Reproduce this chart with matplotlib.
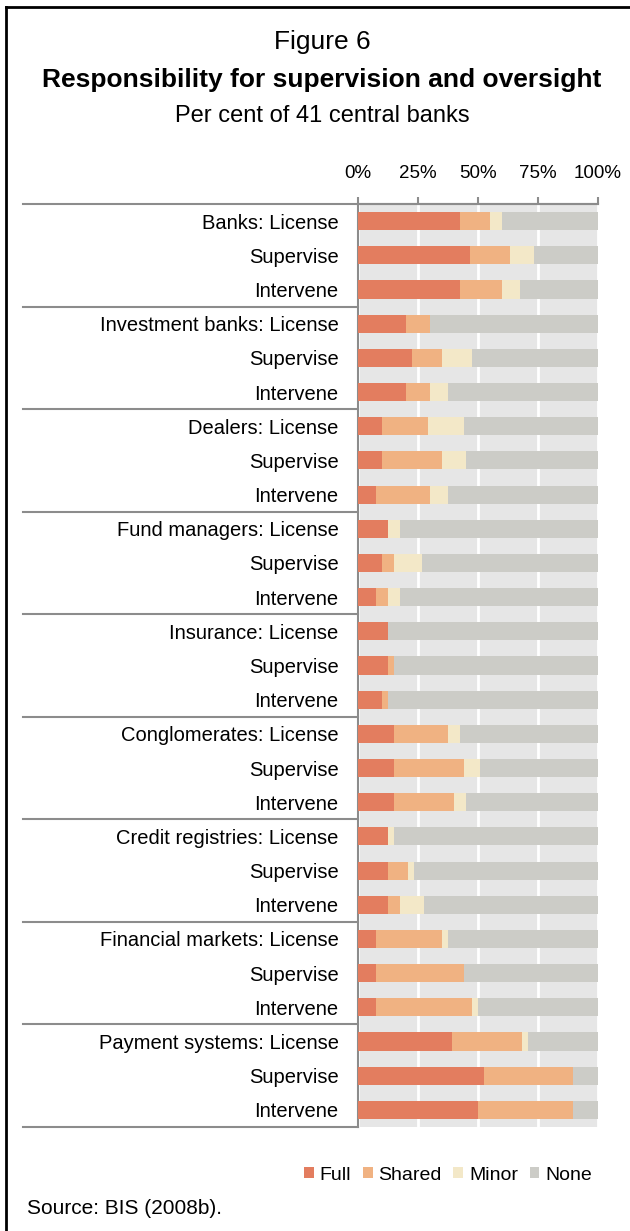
import numpy as np
import matplotlib.pyplot as plt
from matplotlib.lines import Line2D
from matplotlib.patches import Patch

plt.rcParams['font.family'] = ['Liberation Sans', 'DejaVu Sans']

sectors = ["Banks", "Investment banks", "Dealers", "Fund managers", "Insurance",
           "Conglomerates", "Credit registries", "Financial markets", "Payment systems"]
roles = ["License", "Supervise", "Intervene"]

# per cent of central banks, one row per sector/role (top to bottom)
full = [42.5, 46.5, 42.5,
        20.0, 22.5, 20.0,
        10.0, 10.0, 7.5,
        12.5, 10.0, 7.5,
        12.5, 12.5, 10.0,
        15.0, 15.0, 15.0,
        12.5, 12.5, 12.5,
        7.5, 7.5, 7.5,
        39.2, 52.4, 50.0]
shared = [12.5, 16.7, 17.5,
          10.0, 12.5, 10.0,
          19.2, 25.0, 22.5,
          0.0, 5.0, 5.0,
          0.0, 2.5, 2.5,
          22.5, 29.2, 25.0,
          0.0, 8.3, 5.0,
          27.5, 36.7, 40.0,
          29.0, 37.3, 39.7]
minor = [5.0, 10.0, 7.5,
         0.0, 12.5, 7.5,
         15.0, 10.0, 7.5,
         5.0, 11.7, 5.0,
         0.0, 0.0, 0.0,
         5.0, 6.7, 5.0,
         2.5, 2.5, 10.0,
         2.5, 0.0, 2.5,
         2.5, 0.0, 0.0]

series = ["Full", "Shared", "Minor", "None"]
colors = ["#E37D5F", "#F0B282", "#F3E8C8", "#CCCCC7"]

full = np.array(full)
shared = np.array(shared)
minor = np.array(minor)
none = 100 - full - shared - minor

labels = []
for s in sectors:
    for r in roles:
        labels.append(f"{s}: {r}" if r == "License" else r)

W, H = 630, 1231
fig = plt.figure(figsize=(W / 100, H / 100), dpi=100)

x0, x1 = 358, 598
y0, y1 = 204, 1127
ax = fig.add_axes([x0 / W, 1 - y1 / H, (x1 - x0) / W, (y1 - y0) / H])
ax.set_facecolor("#E6E6E6")

y = np.arange(len(labels))
left = np.zeros(len(labels))
for vals, name, col in zip([full, shared, minor, none], series, colors):
    ax.barh(y, vals, left=left, height=0.53, color=col, label=name, zorder=3)
    left += vals

ax.set_xlim(0, 100)
ax.set_ylim(len(labels) - 0.5, -0.5)

ax.set_xticks([0, 25, 50, 75, 100])
ax.set_xticklabels(["0%", "25%", "50%", "75%", "100%"], fontsize=13.5)
ax.xaxis.tick_top()
ax.tick_params(axis="x", length=5, width=1.5, color="#8C8C8C", pad=11)
ax.grid(axis="x", color="white", linewidth=2, zorder=1)
ax.set_axisbelow(True)

ax.set_yticks(y)
ax.set_yticklabels(labels, fontsize=14.5)
ax.tick_params(axis="y", length=0, pad=14)

for side in ["right", "bottom"]:
    ax.spines[side].set_visible(False)
for side in ["top", "left"]:
    ax.spines[side].set_color("#8C8C8C")
    ax.spines[side].set_linewidth(1.5)

# group separators running out under the category labels
trans = ax.get_yaxis_transform()
xl = (23 - x0) / (x1 - x0)
ax.plot([xl, 1], [-0.5, -0.5], color="#8C8C8C", lw=1.5, transform=trans, clip_on=False)
for k in range(1, len(sectors) + 1):
    yy = 3 * k - 0.5
    ax.plot([xl, 0], [yy, yy], color="#8C8C8C", lw=1.5, transform=trans, clip_on=False)

cx = 322 / W
fig.text(cx, 1 - 42 / H, "Figure 6", ha="center", va="center", fontsize=19)
fig.text(cx, 1 - 80 / H, "Responsibility for supervision and oversight",
         ha="center", va="center", fontsize=19, fontweight="bold")
fig.text(cx, 1 - 116 / H, "Per cent of 41 central banks", ha="center", va="center", fontsize=17)

handles = [Patch(facecolor=c, edgecolor="none", label=n) for c, n in zip(colors, series)]
fig.legend(handles=handles, loc="center", bbox_to_anchor=(448 / W, 1 - 1175 / H), ncol=4,
           frameon=False, fontsize=14, handlelength=0.5, handleheight=0.5,
           handletextpad=0.3, columnspacing=0.6)

fig.text(27 / W, 1 - 1209 / H, "Source: BIS (2008b).", ha="left", va="center", fontsize=15)

# outer frame (left and top edges)
fig.add_artist(Line2D([6 / W, 6 / W], [0, 1 - 7 / H], color="black", lw=2))
fig.add_artist(Line2D([6 / W, 1], [1 - 7 / H, 1 - 7 / H], color="black", lw=2))

fig.savefig("out.png", dpi=100)
